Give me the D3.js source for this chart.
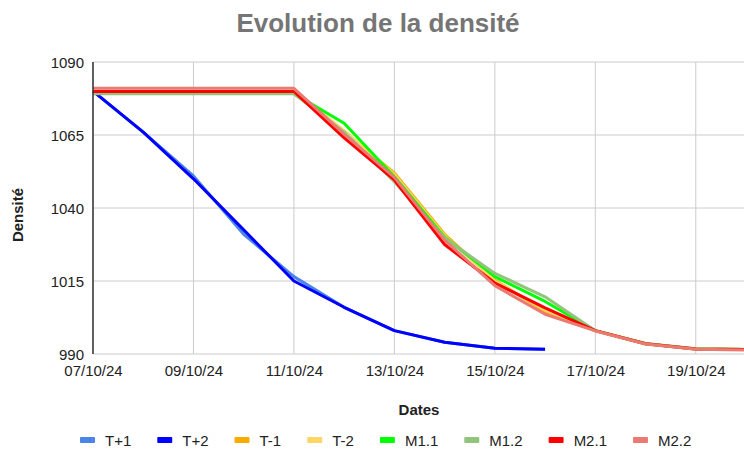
<!DOCTYPE html>
<html>
<head>
<meta charset="utf-8">
<script src="https://cdn.jsdelivr.net/npm/d3@7"></script>
<style>
  body { margin: 0; background: #fff; }
  text { font-family: "Liberation Sans", Arial, sans-serif; }
</style>
</head>
<body>
<svg id="chart" width="744" height="450"></svg>
<script>
(function() {

  // dates (dd/mm/yy), one per day
  var dates = ['07/10/24', '08/10/24', '09/10/24', '10/10/24', '11/10/24', '12/10/24', '13/10/24',
               '14/10/24', '15/10/24', '16/10/24', '17/10/24', '18/10/24', '19/10/24', '20/10/24'];

  var names = ['T+1', 'T+2', 'T-1', 'T-2', 'M1.1', 'M1.2', 'M2.1', 'M2.2'];
  var colors = ['#4a86e8', '#0000ff', '#f9ab00', '#ffd666', '#00ff00', '#93c47d', '#ff0000', '#ea7b73'];

  var tPlus1 = [1080, 1066, 1051, 1031, 1016.5, 1006, 998, 994, 992, 991.6];
  var tPlus2 = [1080, 1066, 1050, 1032.5, 1015, 1006, 998, 994, 992, 991.6];
  var tMinus1 = [1079.7, 1079.7, 1079.7, 1079.7, 1079.7, 1066, 1052, 1031, 1015.3, 1004.5, 998, 993.5, 991.7, 991.5];
  var tMinus2 = [1080, 1080, 1080, 1080, 1080, 1066.5, 1051.5, 1030.5, 1015, 1005, 998, 993.5, 991.7, 991.5];
  var m11 = [1079.2, 1079.2, 1079.2, 1079.2, 1079.2, 1069, 1050.7, 1030, 1016.5, 1008, 998, 993.5, 991.7, 991.5];
  var m12 = [1079.1, 1079.1, 1079.1, 1079.1, 1079.1, 1066, 1049, 1029.7, 1017.6, 1009.6, 998, 993.6, 991.8, 991.6];
  var m21 = [1079.9, 1079.9, 1079.9, 1079.9, 1079.9, 1064, 1049.6, 1027.5, 1014.3, 1005.8, 998, 993.5, 991.7, 991.5];
  var m22 = [1081, 1081, 1081, 1081, 1081, 1065.3, 1050.5, 1029, 1013.4, 1003.6, 997.9, 993.4, 991.6, 991.4];

  var series = [tPlus1, tPlus2, tMinus1, tMinus2, m11, m12, m21, m22];

  var yTicks = [990, 1015, 1040, 1065, 1090];
  var xTickLabels = ['07/10/24', '09/10/24', '11/10/24', '13/10/24', '15/10/24', '17/10/24', '19/10/24'];

  var parse = d3.timeParse('%d/%m/%y');
  var fmt = d3.timeFormat('%d/%m/%y');

  var svg = d3.select('#chart');
  var left = 93, right = 746, top = 62, bottom = 354;

  var x = d3.scaleTime()
    .domain([parse(dates[0]), parse(dates[dates.length - 1])])
    .range([left, right]);
  var y = d3.scaleLinear().domain([990, 1090]).range([bottom, top]);

  // title
  svg.append('text')
    .attr('x', 378).attr('y', 32)
    .attr('text-anchor', 'middle')
    .style('font-size', '26px').style('font-weight', 'bold')
    .attr('fill', '#757575')
    .text('Evolution de la densité');

  // grid
  svg.append('g').selectAll('line.h')
    .data(yTicks)
    .enter().append('line')
    .attr('x1', left).attr('x2', 744)
    .attr('y1', function(d) { return y(d); })
    .attr('y2', function(d) { return y(d); })
    .attr('stroke', '#cccccc').attr('stroke-width', 1);

  svg.append('g').selectAll('line.v')
    .data(xTickLabels)
    .enter().append('line')
    .attr('x1', function(d) { return x(parse(d)); })
    .attr('x2', function(d) { return x(parse(d)); })
    .attr('y1', top).attr('y2', bottom)
    .attr('stroke', '#cccccc').attr('stroke-width', 1);

  // y axis labels
  var yAxis = svg.append('g')
    .attr('transform', 'translate(' + (left - 9) + ',0)')
    .call(d3.axisLeft(y).tickValues(yTicks).tickSize(0).tickPadding(0).tickFormat(d3.format('d')));
  yAxis.select('.domain').remove();
  yAxis.selectAll('text')
    .style('font-size', '15px').attr('fill', '#222').attr('dy', '0.35em')
    .style('font-family', '"Liberation Sans", Arial, sans-serif');

  // x axis labels
  var xAxis = svg.append('g')
    .attr('transform', 'translate(0,' + (bottom + 11) + ')')
    .call(d3.axisBottom(x).tickValues(xTickLabels.map(parse)).tickSize(0).tickPadding(0).tickFormat(fmt));
  xAxis.select('.domain').remove();
  xAxis.selectAll('text')
    .style('font-size', '15px').attr('fill', '#222').attr('dy', '0.72em')
    .style('font-family', '"Liberation Sans", Arial, sans-serif');

  // axis titles
  svg.append('text')
    .attr('x', 419).attr('y', 415)
    .attr('text-anchor', 'middle')
    .style('font-size', '15px').style('font-weight', 'bold')
    .attr('fill', '#222')
    .text('Dates');

  svg.append('text')
    .attr('transform', 'translate(23,' + 215 + ') rotate(-90)')
    .attr('text-anchor', 'middle')
    .style('font-size', '15px').style('font-weight', 'bold')
    .attr('fill', '#222')
    .text('Densité');

  // lines, in series order (last on top)
  var line = d3.line()
    .x(function(d, i) { return x(parse(dates[i])); })
    .y(function(d) { return y(d); });

  series.forEach(function(s, k) {
    svg.append('path')
      .datum(s)
      .attr('d', line)
      .attr('fill', 'none')
      .attr('stroke', colors[k])
      .attr('stroke-width', 3)
      .attr('stroke-linejoin', 'round');
  });

  // left axis line
  svg.append('line')
    .attr('x1', left).attr('x2', left)
    .attr('y1', top).attr('y2', bottom)
    .attr('stroke', '#333').attr('stroke-width', 1.5);

  // legend
  var legend = svg.append('g');
  var lx = 80;
  names.forEach(function(n, i) {
    legend.append('rect')
      .attr('x', lx).attr('y', 437)
      .attr('width', 15).attr('height', 6)
      .attr('rx', 1)
      .attr('fill', colors[i]);
    var t = legend.append('text')
      .attr('x', lx + 25).attr('y', 446)
      .style('font-size', '15px')
      .attr('fill', '#222')
      .text(n);
    lx += 25 + t.node().getComputedTextLength() + 26;
  });

})();
</script>
</body>
</html>
